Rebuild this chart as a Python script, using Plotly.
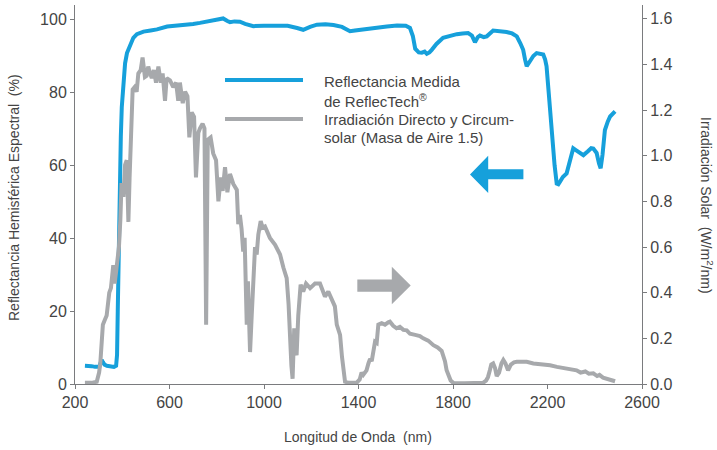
import plotly.graph_objects as go

# ---------------- data ----------------
wl_refl = [242, 255, 270, 285, 295, 303, 308, 313, 318, 325, 335, 350, 365, 374, 378, 381, 384, 387,
           390, 394, 398, 404, 412, 420, 433, 447, 462, 490, 520, 547, 590, 630, 659, 700, 729, 770,
           800, 827, 845, 856, 875, 898, 920, 955, 1000, 1055, 1100, 1140, 1166, 1195, 1224, 1260,
           1294, 1330, 1364, 1385, 1406, 1440, 1478, 1520, 1563, 1600, 1618, 1630, 1640, 1655, 1668,
           1680, 1689, 1700, 1710, 1730, 1758, 1790, 1816, 1840, 1864, 1880, 1893, 1905, 1914, 1930,
           1943, 1970, 2000, 2027, 2050, 2070, 2085, 2097, 2105, 2112, 2125, 2140, 2154, 2170, 2182,
           2190, 2196, 2205, 2218, 2230, 2239, 2246, 2253, 2265, 2281, 2295, 2309, 2320, 2335, 2352,
           2370, 2385, 2394, 2408, 2418, 2425, 2433, 2443, 2455, 2465, 2486]
reflectance = [5.0, 5.0, 4.9, 4.7, 4.6, 4.7, 5.8, 6.6, 6.0, 5.3, 5.0, 4.9, 4.7, 5.0, 8.0, 20.0, 35.0, 48.0,
               58.0, 68.0, 76.0, 83.0, 88.0, 90.8, 93.2, 95.0, 96.0, 96.7, 97.0, 97.3, 98.1, 98.3, 98.4, 98.8, 99.1, 99.6,
               100.0, 100.3, 99.6, 99.3, 99.5, 99.4, 98.8, 98.2, 98.3, 98.3, 98.3, 97.7, 97.2, 98.0, 98.6, 98.7,
               98.5, 98.0, 96.8, 97.0, 97.2, 97.3, 97.7, 98.1, 98.4, 98.3, 97.7, 95.5, 92.0, 91.0, 90.9,
               91.2, 90.6, 91.0, 91.7, 93.3, 95.0, 95.6, 96.0, 96.2, 96.3, 95.6, 93.8, 95.2, 95.6, 95.2,
               95.4, 97.0, 96.9, 96.6, 96.2, 95.4, 93.5, 91.7, 89.0, 87.2, 88.5, 90.0, 90.8, 90.7, 90.4,
               89.0, 87.2, 80.0, 68.9, 60.0, 55.0, 54.8, 55.5, 56.8, 57.8, 61.0, 64.7, 64.2, 63.6, 62.8,
               63.8, 64.7, 64.6, 63.4, 60.5, 59.2, 63.0, 69.7, 72.0, 73.4, 74.8]

wl_irr = [242, 270, 292, 298, 302, 307, 312, 318, 326, 334, 345, 352, 362, 368, 376, 386, 392, 397, 405,
          412, 419, 426, 431, 436, 444, 452, 461, 468, 478, 486, 496, 503, 510, 518, 525, 534, 543, 553,
          563, 571, 581, 588, 602, 616, 628, 637, 644, 656, 666, 676, 684, 694, 704, 712, 722, 729, 740,
          748, 755, 762, 774, 785, 797, 807, 817, 825, 835, 845, 856, 870, 885, 891, 898, 905, 912, 918,
          927, 932, 941, 948, 955, 962, 969, 976, 986, 994, 1004, 1025, 1047, 1068, 1082, 1096, 1104,
          1110, 1116, 1121, 1128, 1133, 1138, 1145, 1155, 1166, 1178, 1195, 1216, 1237, 1258, 1272,
          1293, 1300, 1308, 1315, 1322, 1330, 1343, 1360, 1392, 1405, 1413, 1420, 1434, 1442, 1449,
          1456, 1463, 1470, 1477, 1484, 1498, 1512, 1526, 1533, 1547, 1561, 1575, 1590, 1604, 1618,
          1640, 1660, 1674, 1695, 1717, 1735, 1752, 1759, 1766, 1773, 1780, 1790, 1801, 1815, 1850,
          1900, 1927, 1940, 1948, 1956, 1962, 1970, 1978, 1985, 1995, 2005, 2013, 2022, 2033, 2045,
          2058, 2070, 2090, 2112, 2140, 2170, 2211, 2240, 2260, 2290, 2323, 2340, 2360, 2375, 2394,
          2410, 2420, 2435, 2451, 2465, 2475, 2486]
irradiance = [0.005, 0.005, 0.01, 0.03, 0.05, 0.09, 0.17, 0.26, 0.28, 0.30, 0.40, 0.42, 0.52, 0.44, 0.51, 0.60, 0.72, 0.88, 0.82,
              0.96, 0.98, 0.71, 0.90, 1.10, 1.29, 1.30, 1.28, 1.36, 1.375, 1.43, 1.345, 1.35, 1.39, 1.36, 1.34, 1.375, 1.32, 1.39,
              1.32, 1.36, 1.24, 1.34, 1.33, 1.30, 1.32, 1.24, 1.32, 1.23, 1.28, 1.26, 1.08, 1.19, 1.17, 0.905, 1.10, 1.12, 1.14,
              1.12, 0.26, 1.07, 1.08, 1.01, 0.98, 0.80, 0.905, 0.846, 0.95, 0.84, 0.92, 0.876, 0.85, 0.70, 0.74, 0.68, 0.58, 0.64,
              0.26, 0.45, 0.14, 0.30, 0.42, 0.60, 0.567, 0.655, 0.714, 0.685, 0.69, 0.64, 0.61, 0.567, 0.51, 0.464, 0.35,
              0.156, 0.08, 0.023, 0.244, 0.15, 0.126, 0.30, 0.435, 0.405, 0.44, 0.42, 0.44, 0.44, 0.383, 0.405,
              0.36, 0.34, 0.26, 0.24, 0.215, 0.12, 0.01, 0.005, 0.005, 0.02, 0.05, 0.04, 0.06, 0.09, 0.11,
              0.10, 0.155, 0.185, 0.18, 0.26, 0.266, 0.26, 0.27, 0.273, 0.255, 0.244, 0.25, 0.237, 0.235, 0.22,
              0.215, 0.21, 0.20, 0.19, 0.17, 0.16, 0.145, 0.126, 0.10, 0.06, 0.035, 0.015, 0.005, 0.003, 0.003,
              0.003, 0.005, 0.015, 0.03, 0.06, 0.085, 0.09, 0.07, 0.035, 0.05, 0.09, 0.105, 0.09, 0.06, 0.085,
              0.095, 0.097, 0.099, 0.097, 0.09, 0.088, 0.082, 0.075, 0.072, 0.066, 0.06, 0.05, 0.055, 0.045, 0.047,
              0.035, 0.04, 0.028, 0.023, 0.018, 0.012, 0.012]

x_ticks = [200, 600, 1000, 1400, 1800, 2200, 2600]
y_left_ticks = [0, 20, 40, 60, 80, 100]
y_right_ticks = [0.0, 0.2, 0.4, 0.6, 0.8, 1.0, 1.2, 1.4, 1.6]

legend_lines = ["Reflectancia Medida", "de ReflecTech<sup>®</sup>",
                "Irradiación Directo y Circum-", "solar (Masa de Aire 1.5)"]

# ---------------- style ----------------
BLUE = "#16a0db"
GRAY = "#a7a9ac"
TXT = "#444444"
AX = "#7a7b7e"
FONT = "Liberation Sans"

W, H = 717, 450
L, R, T, B = 75, 75, 5, 66
PW, PH = W - L - R, H - T - B


def px(xp):
    return (xp - L) / PW


def py(yp):
    return (H - B - yp) / PH


fig = go.Figure()
fig.add_trace(go.Scatter(x=wl_irr, y=irradiance, mode="lines", yaxis="y2",
                         line=dict(color=GRAY, width=4), showlegend=False, hoverinfo="skip"))
fig.add_trace(go.Scatter(x=wl_refl, y=reflectance, mode="lines", yaxis="y",
                         line=dict(color=BLUE, width=4), showlegend=False, hoverinfo="skip"))

axis_common = dict(showgrid=False, zeroline=False, showline=True, linecolor=AX, linewidth=1,
                   ticks="outside", ticklen=4, tickcolor=AX, tickwidth=1, automargin=False,
                   tickfont=dict(family=FONT, size=16, color=TXT))

fig.update_layout(
    width=W, height=H,
    margin=dict(l=L, r=R, t=T, b=B, pad=0, autoexpand=False),
    paper_bgcolor="white", plot_bgcolor="white",
    xaxis=dict(range=[200, 2600], tickvals=x_ticks, **axis_common),
    yaxis=dict(range=[0, 104], tickvals=y_left_ticks, **axis_common),
    yaxis2=dict(range=[0, 1.66], tickvals=y_right_ticks, tickformat=".1f",
                overlaying="y", side="right", anchor="x", **axis_common),
)

title_font = dict(family=FONT, size=14, color=TXT)
annotations = [
    dict(text="Reflectancia Hemisférica Espectral\u00a0 (%)", x=px(14), y=py(198), xref="paper", yref="paper",
         xanchor="center", yanchor="middle", textangle=-90, showarrow=False, font=title_font),
    dict(text="Irradiación Solar\u00a0 (W/m<sup>2</sup>/nm)", x=px(707), y=py(205), xref="paper", yref="paper",
         xanchor="center", yanchor="middle", textangle=90, showarrow=False, font=title_font),
    dict(text="Longitud de Onda\u00a0 (nm)", x=px(358), y=py(437), xref="paper", yref="paper",
         xanchor="center", yanchor="middle", showarrow=False, font=title_font),
]
for i, t in enumerate(legend_lines):
    annotations.append(dict(text=t, x=px(322), y=py(81 + 19 * i), xref="paper", yref="paper",
                            xanchor="left", yanchor="middle", showarrow=False,
                            font=dict(family=FONT, size=15, color=TXT)))
fig.update_layout(annotations=annotations)

shapes = [
    dict(type="line", xref="paper", yref="paper", x0=px(225), x1=px(303), y0=py(80), y1=py(80),
         line=dict(color=BLUE, width=4)),
    dict(type="line", xref="paper", yref="paper", x0=px(225), x1=px(303), y0=py(119), y1=py(119),
         line=dict(color=GRAY, width=4)),
    # blue arrow (points left, toward left axis)
    dict(type="path", xref="x", yref="y", fillcolor=BLUE, line=dict(width=0),
         path="M 1872,57.5 L 1949,62.6 L 1949,58.9 L 2098,58.9 L 2098,56.2 L 1949,56.2 L 1949,52.4 Z"),
    # gray arrow (points right, toward right axis)
    dict(type="path", xref="x", yref="y", fillcolor=GRAY, line=dict(width=0),
         path="M 1395,28.7 L 1541,28.7 L 1541,32.2 L 1621,27.0 L 1541,21.9 L 1541,25.3 L 1395,25.3 Z"),
]
fig.update_layout(shapes=shapes)

fig.write_html("out.html", config={"displayModeBar": False},
               post_script="document.body.style.margin='0';")
